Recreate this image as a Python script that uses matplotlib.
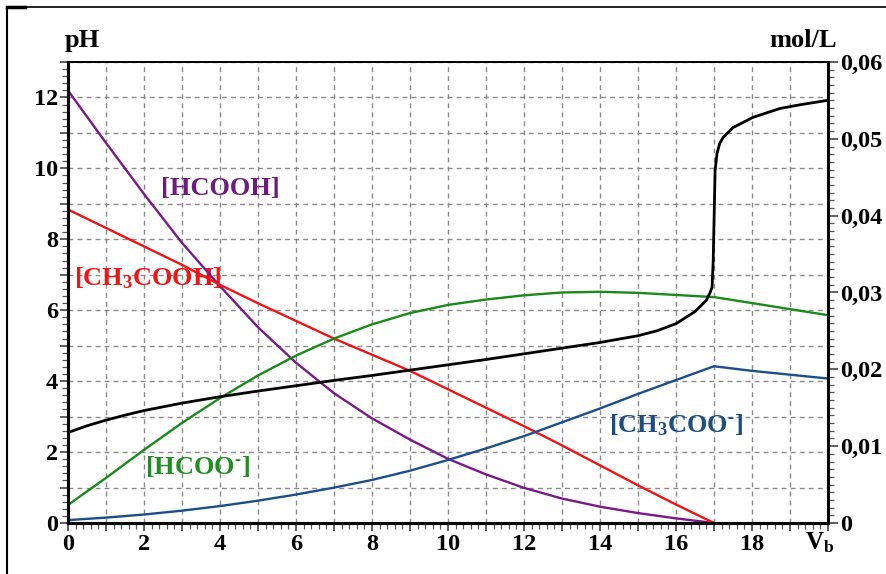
import matplotlib
matplotlib.use("Agg")
import matplotlib.pyplot as plt
from matplotlib.ticker import MultipleLocator, FuncFormatter
from matplotlib.lines import Line2D

plt.rcParams['font.family'] = ['Liberation Serif', 'DejaVu Serif']
plt.rcParams['font.weight'] = 'bold'
plt.rcParams['mathtext.fontset'] = 'custom'
plt.rcParams['mathtext.rm'] = 'Liberation Serif:bold'
plt.rcParams['mathtext.bf'] = 'Liberation Serif:bold'
plt.rcParams['mathtext.it'] = 'Liberation Serif:bold'

# titration curve (left axis, pH)
v_ph = [0, 0.5, 1, 1.5, 2, 3, 4, 5, 6, 7, 8, 9, 10, 11, 12, 13, 14, 15, 15.5,
        16, 16.5, 16.8, 16.9, 16.95, 16.98, 17.03, 17.08, 17.15, 17.24, 17.5,
        18.03, 18.74, 19.3, 20]
ph = [2.55, 2.74, 2.9, 3.04, 3.17, 3.38, 3.56, 3.72, 3.87, 4.02, 4.16, 4.31,
      4.46, 4.61, 4.77, 4.93, 5.09, 5.28, 5.42, 5.62, 5.96, 6.28, 6.5, 6.65,
      7.4, 9.94, 10.42, 10.7, 10.87, 11.15, 11.44, 11.69, 11.8, 11.92]

# concentrations (right axis, mol/L)
v_acid = [0, 1, 2, 3, 4, 5, 6, 7, 8, 9, 10, 11, 12, 13, 14, 15, 16, 17]
hcooh = [0.0563, 0.04948, 0.04283, 0.03646, 0.03083, 0.02548, 0.02086,
         0.01689, 0.01362, 0.01085, 0.00835, 0.00632, 0.00457, 0.00318,
         0.00212, 0.00129, 0.0006, 0.0]
ch3cooh = [0.0408, 0.0384, 0.0360, 0.0336, 0.0310, 0.0286, 0.0263, 0.0240,
           0.0219, 0.0198, 0.0174, 0.0150, 0.0126, 0.0101, 0.0075, 0.0049,
           0.0024, 0.0]

v_base = [0, 1, 2, 3, 4, 5, 6, 7, 8, 9, 10, 11, 12, 13, 14, 15, 16, 17, 18, 19, 20]
hcoo = [0.00235, 0.00586, 0.00951, 0.01302, 0.01625, 0.0192, 0.02178, 0.0240,
        0.02585, 0.02732, 0.02838, 0.02908, 0.02963, 0.0300, 0.03009, 0.02995,
        0.02968, 0.0294, 0.02862, 0.02783, 0.02705]
ch3coo = [0.00037, 0.0007, 0.0011, 0.0016, 0.0022, 0.0029, 0.0037, 0.0046,
          0.0056, 0.0068, 0.0082, 0.0097, 0.0113, 0.0131, 0.0149, 0.0168,
          0.0186, 0.0204, 0.0198, 0.0193, 0.0188]

fig = plt.figure(figsize=(8.86, 5.74), dpi=100)
ax = fig.add_axes([0.0767, 0.0889, 0.8578, 0.8031])
ax2 = ax.twinx()

ax.set_xlim(0, 20)
ax.set_ylim(0, 13)
ax2.set_ylim(0, 0.06)

grid_kw = dict(color='#8a8a8a', linestyle=(0, (3.5, 3)), linewidth=1.0)
ax.grid(True, which='major', **grid_kw)
ax.set_axisbelow(True)

ax2.plot(v_acid, hcooh, color='#7a1a88', lw=1.7)
ax2.plot(v_acid, ch3cooh, color='#f01414', lw=1.7)
ax2.plot(v_base, hcoo, color='#1a8a1a', lw=1.7)
ax2.plot(v_base, ch3coo, color='#1c4f8a', lw=1.7)
ax2.plot(v_ph, ph, color='black', lw=2.0, transform=ax.transData)

# ticks
ax.xaxis.set_major_locator(MultipleLocator(1))
ax.xaxis.set_minor_locator(MultipleLocator(0.2))
ax.xaxis.set_major_formatter(FuncFormatter(
    lambda v, p: '%d' % v if int(round(v)) % 2 == 0 and v < 19.5 else ''))
ax.yaxis.set_major_locator(MultipleLocator(1))
ax.yaxis.set_minor_locator(MultipleLocator(0.2))
ax.yaxis.set_major_formatter(FuncFormatter(
    lambda v, p: '%d' % v if int(round(v)) % 2 == 0 and v < 12.5 else ''))
ax2.yaxis.set_major_locator(MultipleLocator(0.01))
ax2.yaxis.set_minor_locator(MultipleLocator(0.001))
ax2.yaxis.set_major_formatter(FuncFormatter(
    lambda v, p: '0' if abs(v) < 1e-9 else ('%.2f' % v).replace('.', ',')))

ax.tick_params(axis='both', which='major', direction='out', length=6, width=1.2,
               labelsize=17.5, pad=1, color='#444444')
ax.tick_params(axis='both', which='minor', direction='out', length=4, width=0.9,
               color='#555555')
ax.tick_params(axis='x', which='major', pad=2)
ax2.tick_params(axis='y', which='major', direction='out', length=7, width=1.2,
                labelsize=17.5, pad=2, color='#444444')
ax2.tick_params(axis='y', which='minor', direction='out', length=4, width=0.9,
                color='#555555')
for t in ax.get_xticklabels() + ax.get_yticklabels() + ax2.get_yticklabels():
    t.set_fontweight('bold')

for a in (ax, ax2):
    a.spines['left'].set_linewidth(2.2)
    a.spines['bottom'].set_linewidth(2.2)
    a.spines['right'].set_linewidth(2.0)
    a.spines['top'].set_linewidth(1.2)

# curve labels
lab_kw = dict(fontsize=19, fontweight='bold', ha='center', va='center')
ax.text(4.0, 9.44, '[HCOOH]', color='#6e1a7e', **lab_kw)
ax.text(2.1, 6.9, r'[CH$_\mathbf{3}$COOH]', color='#f01414', **lab_kw)
ax.text(3.42, 1.58, r'[HCOO$^{\text{-}}$]', color='#1f8f1f', **lab_kw)
ax.text(16.0, 2.76, r'[CH$_\mathbf{3}$COO$^{\text{-}}$]', color='#1c4f80', **lab_kw)

fig.text(0.0926, 0.9286, 'pH', fontsize=19, fontweight='bold', ha='center', va='center')
fig.text(0.906, 0.930, 'mol/L', fontsize=19, fontweight='bold', ha='center', va='center')
fig.text(0.9255, 0.054, r'V$_\mathbf{b}$', fontsize=18, fontweight='bold', ha='center', va='center')

# outer frame (top and left)
fig.add_artist(Line2D([0.0079, 1.0], [0.9878, 0.9878], color='black', lw=1.2,
                      transform=fig.transFigure))
fig.add_artist(Line2D([0.0079, 0.0079], [0.0, 0.9878], color='black', lw=1.5,
                      transform=fig.transFigure))
fig.add_artist(Line2D([0.0079, 0.028], [0.9878, 0.9878], color='black', lw=2.5,
                      transform=fig.transFigure))

fig.savefig('out.png', dpi=100)
